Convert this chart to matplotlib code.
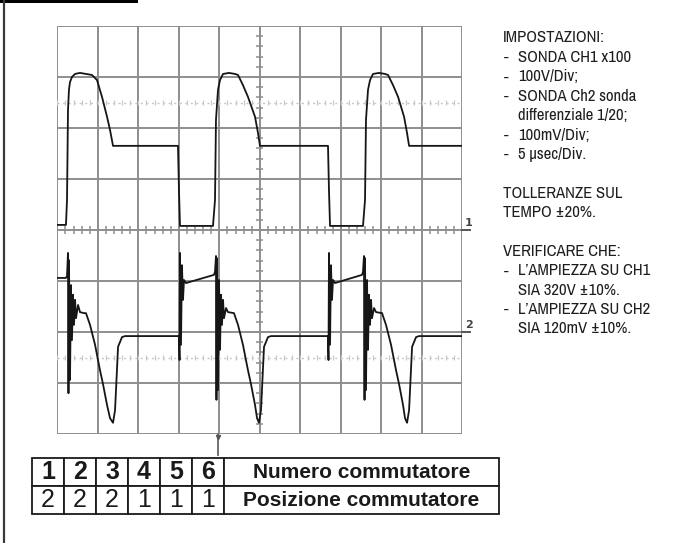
import numpy as np
import matplotlib
matplotlib.use("Agg")
import matplotlib.pyplot as plt
from matplotlib.lines import Line2D
from matplotlib.patches import Rectangle

W, H = 677, 543

# --- scope traces: time in microseconds (5 us/div), CH1 in volts, CH2 in mV ---
ch1_t = [0, 1.07, 1.20, 1.32, 1.44, 1.57, 1.81, 2.19, 2.80, 3.54, 4.28, 4.90, 5.52, 6.14, 6.51, 6.88,
         14.90, 15.02, 15.15, 19.22,
         19.47, 19.59, 19.84, 20.09, 20.46, 21.20, 21.94, 22.31, 22.92, 23.54, 24.41, 24.78, 25.02,
         33.42, 33.54, 33.67, 37.74,
         37.99, 38.11, 38.36, 38.61, 38.98, 39.72, 40.46, 40.83, 41.45, 42.07, 42.81, 43.18, 43.43, 50]
ch1_v = [10, 10, 59, 235, 275, 290, 300, 306, 308, 306, 304, 294, 261, 222, 196, 165,
         165, 78, 8, 8,
         59, 216, 275, 294, 306, 308, 306, 304, 284, 261, 222, 190, 165,
         165, 78, 8, 8,
         59, 216, 275, 294, 306, 308, 306, 304, 284, 261, 222, 190, 165, 165]

ch2_t = [0, 1.07, 1.20, 1.32, 1.38, 1.44, 1.57, 1.69, 1.81, 1.94, 2.06, 2.19, 2.31, 2.56, 2.80, 3.30,
         3.54, 4.04, 4.66, 5.27, 5.64, 6.14, 6.51, 6.88, 7.13, 7.50, 7.99, 8.36,
         15.02, 15.09, 15.15, 15.27, 15.39, 15.52, 15.64, 15.89, 19.34, 19.47,
         19.59, 19.65, 19.71, 19.84, 19.96, 20.09, 20.21, 20.33, 20.46, 20.58, 20.83, 21.07,
         21.81, 22.31, 22.92, 23.54, 23.91, 24.41, 24.66, 24.90, 25.15, 25.52, 26.01, 26.38,
         33.42, 33.48, 33.54, 33.67, 33.79, 33.91, 34.04, 34.28, 37.62, 37.74,
         37.86, 37.93, 37.99, 38.11, 38.24, 38.36, 38.48, 38.61, 38.73, 38.85, 39.10, 39.35,
         40.09, 40.58, 41.20, 41.82, 42.19, 42.68, 42.93, 43.18, 43.43, 43.80, 44.29, 44.66, 50]
ch2_mv = [106, 106, 110, 155, -120, 141, -94, 92, -16, 73, 14, 63, 27, 53, 39, 37,
          37, 14, -25, -75, -102, -143, -169, -178, -153, -29, -10, -8,
          -8, -55, 155, -25, 131, 63, 102, 96, 112, 118,
          149, -133, 145, -114, 102, -35, 73, 14, 63, 27, 47, 39,
          37, 14, -25, -75, -102, -143, -169, -178, -153, -29, -10, -8,
          -8, -55, 155, -25, 131, 63, 102, 96, 112, 118,
          149, -133, 145, -114, 102, -35, 73, 14, 63, 27, 47, 39,
          37, 14, -25, -75, -102, -143, -169, -178, -153, -29, -10, -8, -8]

ch1_scale = 100.0   # V/div
ch2_scale = 100.0   # mV/div
ch2_ground = -2.0   # div

trigger_t = 19.84

# (dash, text, indented)
notes = [
    ("", "IMPOSTAZIONI:", False),
    ("-", "SONDA CH1 x100", True),
    ("-", "100V/Div;", True),
    ("-", "SONDA Ch2 sonda", True),
    ("", "differenziale 1/20;", True),
    ("-", "100mV/Div;", True),
    ("-", "5 \u00b5sec/Div.", True),
    (None, None, None),
    ("", "TOLLERANZE SUL", False),
    ("", "TEMPO \u00b120%.", False),
    (None, None, None),
    ("", "VERIFICARE CHE:", False),
    ("-", "L\u2019AMPIEZZA SU CH1", True),
    ("", "SIA 320V \u00b110%.", True),
    ("-", "L\u2019AMPIEZZA SU CH2", True),
    ("", "SIA 120mV \u00b110%.", True),
]

switch_no = ["1", "2", "3", "4", "5", "6", "Numero commutatore"]
switch_pos = ["2", "2", "2", "1", "1", "1", "Posizione commutatore"]

narrow = ["Archivo Narrow", "DejaVu Sans"]

fig = plt.figure(figsize=(W / 100, H / 100), dpi=100)
fig.patch.set_facecolor("white")

# page decorations: left rule and black tab at top-left
fig.add_artist(Line2D([3.5 / W, 3.5 / W], [0, 1], color="#3a3a3a", lw=1.6))
fig.add_artist(Rectangle((0, 1 - 3 / H), 138 / W, 3 / H, color="black", lw=0))

# --- scope screen ---
ax = fig.add_axes([57.3 / W, 1 - 434 / H, 405 / W, 408 / H])
ax.set_xlim(0, 50)
ax.set_ylim(-4, 4)
ax.axis("off")

grid_c = "#8e8e8e"
for t in np.arange(0, 50.1, 5):
    ax.axvline(t, color=grid_c, lw=1.4, zorder=1)
for d in range(-4, 5):
    ax.axhline(d, color=grid_c, lw=1.4, zorder=1)

# tick marks on the centre lines
minor_t = np.arange(0, 50.01, 1.0)
minor_d = np.arange(-4, 4.01, 0.2)
ax.vlines(minor_t, -0.07, 0.07, color=grid_c, lw=1.1, zorder=1)
ax.hlines(minor_d, 25 - 0.45, 25 + 0.45, color=grid_c, lw=1.1, zorder=1)

# 0% / 100% dotted marks
for d in (2.5, -2.5):
    ax.axhline(d, color="#c8c8c8", lw=1.0, ls=(0, (1.5, 2.5)), zorder=1)
    ax.vlines(minor_t, d - 0.04, d + 0.04, color="#c8c8c8", lw=0.9, zorder=1)

ch1_div = np.array(ch1_v) / ch1_scale
ch2_div = np.array(ch2_mv) / ch2_scale + ch2_ground
ax.plot(ch1_t, ch1_div, color="#161616", lw=1.3, zorder=3)
ax.plot(ch2_t, ch2_div, color="#161616", lw=1.3, zorder=3)

# channel ground markers
ax.plot([50, 50.9], [0, 0], color="#555555", lw=1.4, clip_on=False)
ax.plot([50, 50.9], [ch2_ground, ch2_ground], color="#555555", lw=1.4, clip_on=False)
ax.text(50.35, 0.03, "1", fontsize=8, fontweight="bold", color="#444444",
        ha="left", va="bottom", clip_on=False)
ax.text(50.35, ch2_ground + 0.03, "2", fontsize=8, fontweight="bold", color="#444444",
        ha="left", va="bottom", clip_on=False)

# trigger position marker
ax.plot([trigger_t, trigger_t], [-4, -4.42], color="#666666", lw=1.3, clip_on=False)
ax.plot([trigger_t], [-4.05], marker="v", ms=3, color="#555555", clip_on=False)

# --- right hand notes ---
y = 38.0
for dash, txt, indent in notes:
    if dash is None:
        y += 19.4
        continue
    if dash:
        fig.text(504 / W, 1 - y / H, dash, fontsize=12, color="#1e1e1e",
                 family=narrow, va="center")
    fig.text((518 if indent else 503) / W, 1 - y / H, txt, fontsize=12,
             color="#1e1e1e", family=narrow, va="center")
    y += 19.4

# --- switch table ---
tax = fig.add_axes([32 / W, 1 - 514 / H, 467 / W, 56 / H])
tax.axis("off")
col_w = [32 / 467] * 6 + [275 / 467]
tbl = tax.table(cellText=[switch_no, switch_pos], colWidths=col_w,
                cellLoc="center", bbox=[0, 0, 1, 1])
tbl.auto_set_font_size(False)
for (r, c), cell in tbl.get_celld().items():
    cell.set_linewidth(1.3)
    cell.set_edgecolor("#1a1a1a")
    txt = cell.get_text()
    txt.set_family(["Liberation Sans", "DejaVu Sans"])
    txt.set_color("#1a1a1a")
    if c < 6:
        txt.set_fontsize(18)
        txt.set_fontweight("bold" if r == 0 else "normal")
    else:
        txt.set_fontsize(15)
        txt.set_fontweight("bold")

fig.savefig("out.png", dpi=100)
